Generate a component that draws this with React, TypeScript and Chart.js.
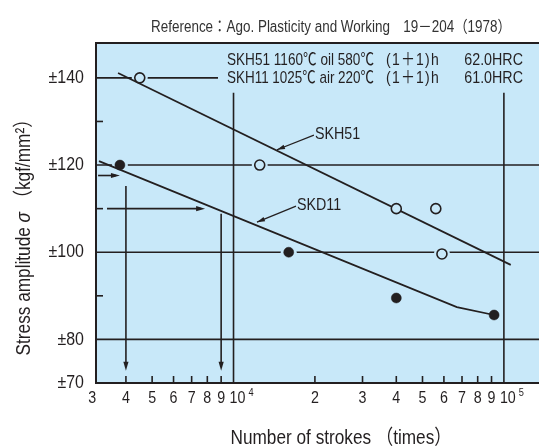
import React, { useEffect, useRef } from "react";
import { Chart, registerables } from "chart.js";

Chart.register(...registerables);

// ---------- data ----------
const SKH51_STROKES = [4500, 12500, 40000, 56000, 59000];
const SKH51_STRESS = [140, 120, 110, 110, 99.6];
const SKD11_STROKES = [3800, 16000, 40000, 92000];
const SKD11_STRESS = [120, 100, 89.5, 85.6];

const SKH51_FIT_STROKES = [3740, 106000];
const SKH51_FIT_STRESS = [141.1, 97.1];
const SKD11_FIT_STROKES = [3180, 67000, 92000];
const SKD11_FIT_STRESS = [120.9, 87.4, 85.6];

const X_TICK_VALUES = [3000, 4000, 5000, 6000, 7000, 8000, 9000, 10000, 20000, 30000, 40000, 50000, 60000, 70000, 80000, 90000, 100000];
const X_TICK_LABELS = ["3", "4", "5", "6", "7", "8", "9", "10^4", "2", "3", "4", "5", "6", "7", "8", "9", "10^5"];
const X_GRID = [10000, 100000];

const Y_TICK_VALUES = [70, 80, 100, 120, 140];
const Y_TICK_LABELS = ["±70", "±80", "±100", "±120", "±140"];
const Y_MINOR = [90, 110, 130];
const Y_GRID_FULL = [80, 100, 120];
const Y_GRID_PARTIAL = [140];

const HEADER_LINES = [
  ["SKH51 1160℃ oil 580℃", "(1＋1)h", "62.0HRC"],
  ["SKH11 1025℃ air 220℃", "(1＋1)h", "61.0HRC"],
];
const REFERENCE_TEXT = "Reference：Ago. Plasticity and Working　19－204（1978）";
const X_TITLE = "Number of strokes （times）";
const Y_TITLE_PARTS = ["Stress amplitude ", "σ", " （kgf/mm²）"];

const H_ARROW_Y = [117.6, 110];
const H_ARROW_FROM = [3155, 3405];
const H_ARROW_TO = [3800, 7850];
const V_ARROW_X = [4000, 9000];
const V_ARROW_FROM = [115.2, 108.8];
const V_ARROW_TO = [72.8, 72.8];

const CURVE_LABELS = ["SKH51", "SKD11"];
const LABEL_X = [20000, 17170];
const LABEL_Y = [127.1, 110.8];
const LEADER_TIP_X = [14480, 12210];
const LEADER_TIP_Y = [123.5, 106.9];

// ---------- style ----------
const BG = "#c8e8f9";
const INK = "#231f20";
const GREY = "#333333";
const FAMILY = "'Liberation Sans', Arial, 'Noto Sans CJK JP', sans-serif";
const SX = 0.84;

function txt(ctx: CanvasRenderingContext2D, s: string, x: number, y: number, size: number, align: CanvasTextAlign = "left", color = INK, italic = false, spacing = 0, maxW = 0) {
  ctx.save();
  ctx.translate(x, y);
  ctx.scale(SX, 1);
  ctx.font = `${italic ? "italic " : ""}${size}px ${FAMILY}`;
  (ctx as any).letterSpacing = `${spacing}px`;
  ctx.textAlign = align;
  ctx.textBaseline = "middle";
  ctx.fillStyle = color;
  if (maxW > 0) ctx.fillText(s, 0, 0, maxW / SX);
  else ctx.fillText(s, 0, 0);
  ctx.restore();
}
function width(ctx: CanvasRenderingContext2D, s: string, size: number, italic = false) {
  ctx.save();
  ctx.font = `${italic ? "italic " : ""}${size}px ${FAMILY}`;
  const w = ctx.measureText(s).width * SX;
  ctx.restore();
  return w;
}
function line(ctx: CanvasRenderingContext2D, x1: number, y1: number, x2: number, y2: number, lw = 1.6) {
  ctx.save();
  ctx.strokeStyle = INK;
  ctx.lineWidth = lw;
  ctx.beginPath();
  ctx.moveTo(x1, y1);
  ctx.lineTo(x2, y2);
  ctx.stroke();
  ctx.restore();
}
function head(ctx: CanvasRenderingContext2D, fx: number, fy: number, tx: number, ty: number, len = 9, hw = 2.6) {
  const a = Math.atan2(ty - fy, tx - fx);
  ctx.save();
  ctx.translate(tx, ty);
  ctx.rotate(a);
  ctx.fillStyle = INK;
  ctx.beginPath();
  ctx.moveTo(0, 0);
  ctx.lineTo(-len, -hw);
  ctx.lineTo(-len, hw);
  ctx.closePath();
  ctx.fill();
  ctx.restore();
}

const paperPlugin = {
  id: "paper",
  beforeDraw(chart: any) {
    const { ctx, chartArea: a } = chart;
    ctx.save();
    ctx.fillStyle = BG;
    ctx.fillRect(a.left, a.top, a.right - a.left, a.bottom - a.top);
    ctx.restore();
  },
  beforeDatasetsDraw(chart: any) {
    const { ctx, chartArea: a, scales } = chart;
    const xs = scales.x, ys = scales.y;
    const headerX = a.left + 131;
    Y_GRID_FULL.forEach((v) => { const y = ys.getPixelForValue(v); line(ctx, a.left, y, a.right, y); });
    Y_GRID_PARTIAL.forEach((v) => { const y = ys.getPixelForValue(v); line(ctx, a.left, y, headerX - 9, y); });
    const vTop = ys.getPixelForValue(140) + 15;
    X_GRID.forEach((v) => { const x = xs.getPixelForValue(v); line(ctx, x, vTop, x, a.bottom); });
    Y_MINOR.forEach((v) => { const y = ys.getPixelForValue(v); line(ctx, a.left, y, a.left + 7, y); });
    X_TICK_VALUES.forEach((v) => {
      if (X_GRID.includes(v)) return;
      const x = xs.getPixelForValue(v);
      if (x <= a.left + 1) return;
      line(ctx, x, a.bottom, x, a.bottom - 7);
    });
    H_ARROW_Y.forEach((v, i) => {
      const y = ys.getPixelForValue(v);
      const x1 = xs.getPixelForValue(H_ARROW_FROM[i]);
      const x2 = xs.getPixelForValue(H_ARROW_TO[i]);
      line(ctx, x1, y, x2 - 4, y);
      head(ctx, x1, y, x2, y);
    });
    V_ARROW_X.forEach((v, i) => {
      const x = xs.getPixelForValue(v);
      const y1 = ys.getPixelForValue(V_ARROW_FROM[i]);
      const y2 = ys.getPixelForValue(V_ARROW_TO[i]);
      line(ctx, x, y1, x, y2 - 4);
      head(ctx, x, y1, x, y2);
    });
    const y2 = ys.getPixelForValue(140);
    HEADER_LINES.forEach((parts, i) => {
      const y = y2 - 18 + i * 18;
      txt(ctx, parts[0], headerX, y, 17, "left", INK, false, 0, 147);
      txt(ctx, parts[1], a.left + 290, y, 17, "left", INK, false, 1.5, 54);
      txt(ctx, parts[2], a.left + 427, y, 17, "right");
    });
  },
  afterDatasetsDraw(chart: any) {
    const { ctx, chartArea: a, scales } = chart;
    const xs = scales.x, ys = scales.y;
    ctx.save();
    ctx.strokeStyle = INK;
    ctx.lineWidth = 2;
    ctx.strokeRect(a.left, a.top, a.right - a.left, a.bottom - a.top);
    ctx.restore();
    CURVE_LABELS.forEach((s, i) => {
      const x = xs.getPixelForValue(LABEL_X[i]);
      const y = ys.getPixelForValue(LABEL_Y[i]);
      const tx = xs.getPixelForValue(LEADER_TIP_X[i]);
      const ty = ys.getPixelForValue(LEADER_TIP_Y[i]);
      line(ctx, x - 1, y + 1, tx, ty, 1.2);
      head(ctx, x - 1, y + 1, tx, ty, 8, 2.2);
      txt(ctx, s, x, y, 17);
    });
    Y_TICK_VALUES.forEach((v, i) => {
      const y = ys.getPixelForValue(v);
      txt(ctx, Y_TICK_LABELS[i], a.left - 12, y, 19, "right");
    });
    const ly = a.bottom + 15;
    X_TICK_VALUES.forEach((v, i) => {
      const x = xs.getPixelForValue(v);
      const lab = X_TICK_LABELS[i];
      if (lab.includes("^")) {
        const [base, exp] = lab.split("^");
        const w = width(ctx, base, 17);
        const x0 = x - 4;
        txt(ctx, base, x0, ly, 17, "left");
        txt(ctx, exp, x0 + w + 3, ly - 5, 11, "left");
      } else {
        txt(ctx, lab, x, ly, 17, "center");
      }
    });
    txt(ctx, X_TITLE, 341, a.bottom + 55, 20.5, "center");
    txt(ctx, REFERENCE_TEXT, 331, 28, 16, "center", GREY);
    ctx.save();
    ctx.translate(24, 233);
    ctx.rotate(-Math.PI / 2);
    const ys2 = 20.5;
    const ws = Y_TITLE_PARTS.map((p, i) => width(ctx, p, ys2, i === 1));
    const total = ws.reduce((s, w) => s + w, 0);
    let cx = -total / 2;
    Y_TITLE_PARTS.forEach((p, i) => {
      txt(ctx, p, cx, 0, ys2, "left", INK, i === 1);
      cx += ws[i];
    });
    ctx.restore();
  },
};

export default function App() {
  const ref = useRef<HTMLCanvasElement | null>(null);
  useEffect(() => {
    if (!ref.current) return;
    const pts = (xs: number[], ys: number[]) => xs.map((x, i) => ({ x, y: ys[i] }));
    const chart = new Chart(ref.current, {
      type: "scatter",
      data: {
        datasets: [
          { label: "halo51", data: pts(SKH51_STROKES, SKH51_STRESS), pointRadius: 8, pointBackgroundColor: BG, pointBorderWidth: 0, showLine: false, order: 4 } as any,
          { label: "halo11", data: pts(SKD11_STROKES, SKD11_STRESS), pointRadius: 8, pointBackgroundColor: BG, pointBorderWidth: 0, showLine: false, order: 4 } as any,
          { label: "SKH51 fit", data: pts(SKH51_FIT_STROKES, SKH51_FIT_STRESS), showLine: true, pointRadius: 0, borderColor: INK, borderWidth: 1.7, order: 2 } as any,
          { label: "SKD11 fit", data: pts(SKD11_FIT_STROKES, SKD11_FIT_STRESS), showLine: true, pointRadius: 0, borderColor: INK, borderWidth: 1.7, order: 2 } as any,
          { label: "SKH51", data: pts(SKH51_STROKES, SKH51_STRESS), pointRadius: 5, pointBackgroundColor: BG, pointBorderColor: INK, pointBorderWidth: 1.6, showLine: false, order: 1 } as any,
          { label: "SKD11", data: pts(SKD11_STROKES, SKD11_STRESS), pointRadius: 5, pointBackgroundColor: INK, pointBorderColor: INK, pointBorderWidth: 0.5, showLine: false, order: 1 } as any,
        ],
      },
      options: {
        responsive: false,
        animation: false,
        events: [],
        layout: { padding: { left: 96, top: 43, right: 48.5, bottom: 65 } },
        plugins: { legend: { display: false }, tooltip: { enabled: false } },
        scales: {
          x: { type: "logarithmic", min: 3100, max: 150000, display: false },
          y: { type: "linear", min: 70, max: 148, display: false },
        },
      },
      plugins: [paperPlugin],
    });
    return () => chart.destroy();
  }, []);
  return (
    <div style={{ position: "fixed", left: 0, top: 0, width: 539, height: 448, overflow: "hidden", background: "#fff" }}>
      <canvas ref={ref} width={600} height={448} style={{ display: "block", width: 600, height: 448 }} />
    </div>
  );
}
